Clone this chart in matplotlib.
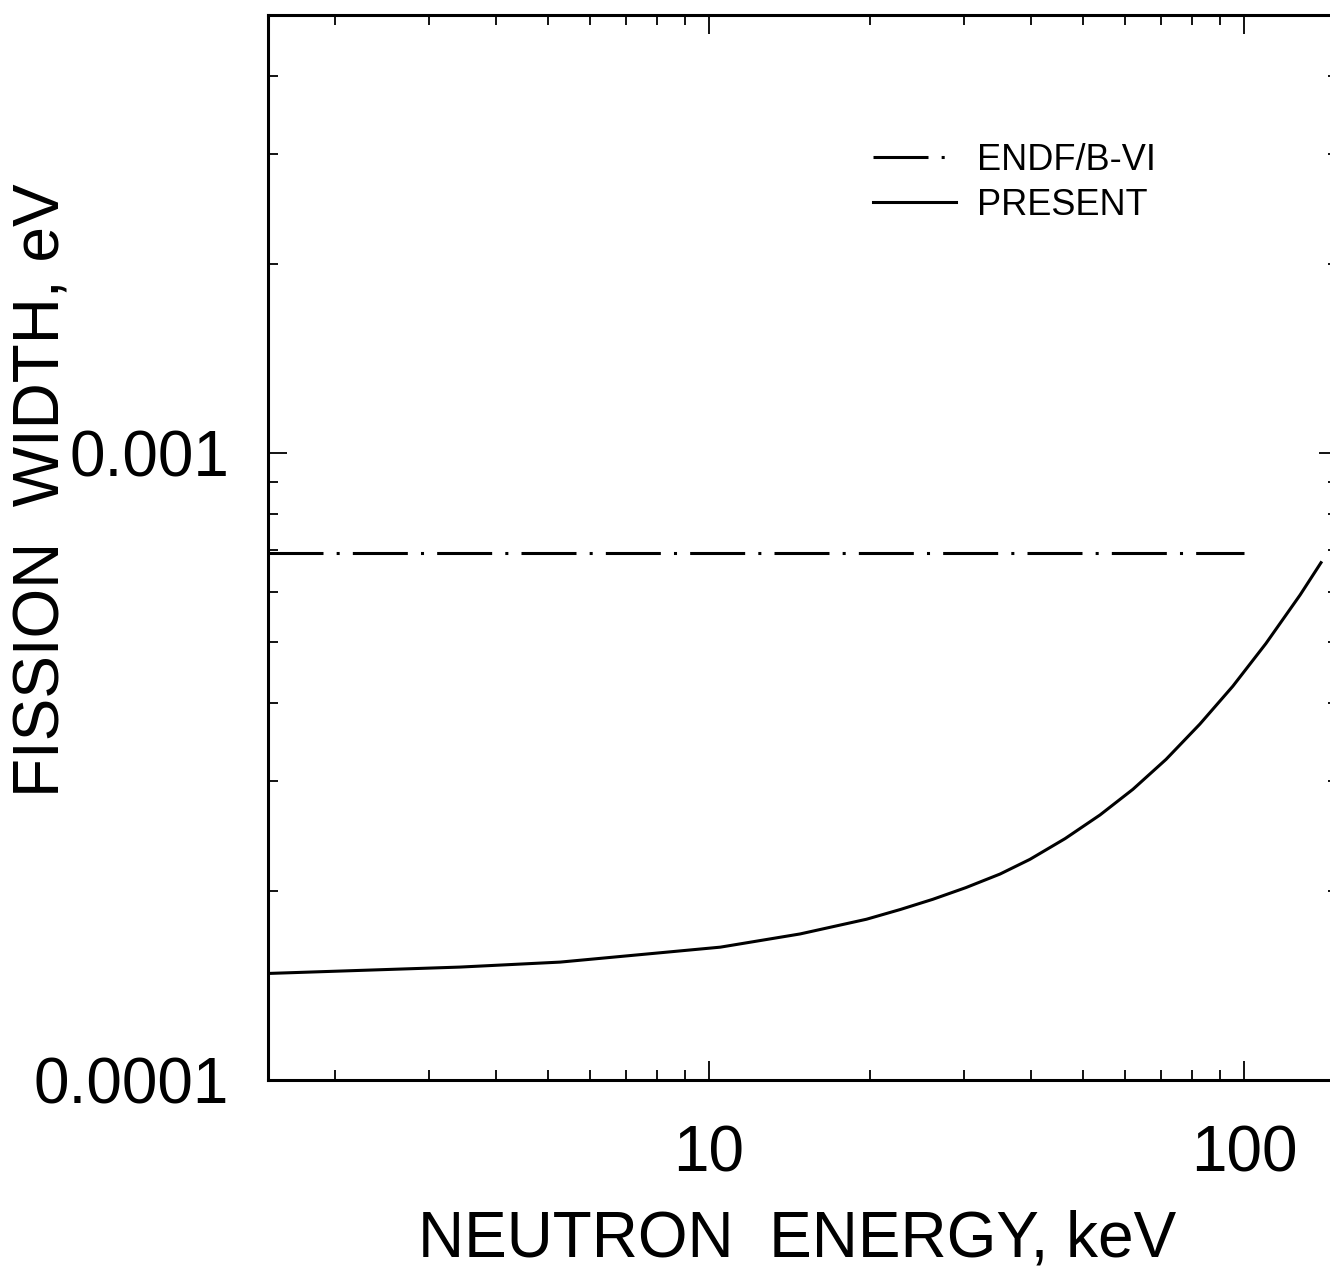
import matplotlib
matplotlib.use("Agg")
import matplotlib.pyplot as plt
from matplotlib.ticker import LogLocator, FixedLocator, NullFormatter, FixedFormatter

plt.rcParams['font.family'] = ['Liberation Sans', 'DejaVu Sans']

# ENDF/B-VI constant fission width
endf_energy = [1.5, 100.0]
endf_width = [6.93e-4, 6.93e-4]

# PRESENT curve
present_energy = [1.5, 3.42, 5.27, 10.5, 14.8, 19.7, 22.8, 26.2, 30.2, 35.0, 39.8,
                  46.3, 53.8, 62.0, 71.5, 82.7, 95.3, 109.9, 127.3, 139.3]
present_width = [1.479e-4, 1.514e-4, 1.542e-4, 1.629e-4, 1.710e-4, 1.805e-4, 1.871e-4,
                 1.942e-4, 2.027e-4, 2.131e-4, 2.249e-4, 2.427e-4, 2.647e-4, 2.909e-4,
                 3.247e-4, 3.696e-4, 4.248e-4, 4.970e-4, 5.939e-4, 6.688e-4]

x_ticks = [10, 100]
x_ticklabels = ["10", "100"]
y_ticks = [1e-4, 1e-3]
y_ticklabels = ["0.0001", "0.001"]

fig = plt.figure(figsize=(13.3, 12.75), dpi=100)
ax = fig.add_axes([268.2/1330, 195/1275, 1070/1330, 1065/1275])

ax.plot(endf_energy, endf_width, color='black', lw=2.2,
        dashes=(18, 4.3, 1, 4.3), label='ENDF/B-VI')
ax.plot(present_energy, present_width, color='black', lw=2.2, label='PRESENT',
        solid_joinstyle='round')

ax.set_xscale('log')
ax.set_yscale('log')
ax.set_xlim(1.5, 150)
ax.set_ylim(1e-4, 5e-3)

ax.xaxis.set_major_locator(FixedLocator(x_ticks))
ax.xaxis.set_major_formatter(FixedFormatter(x_ticklabels))
ax.xaxis.set_minor_locator(LogLocator(base=10, subs=range(2, 10)))
ax.xaxis.set_minor_formatter(NullFormatter())
ax.yaxis.set_major_locator(FixedLocator(y_ticks))
ax.yaxis.set_major_formatter(FixedFormatter(y_ticklabels))
ax.yaxis.set_minor_locator(LogLocator(base=10, subs=range(2, 10)))
ax.yaxis.set_minor_formatter(NullFormatter())

ax.tick_params(which='both', direction='in', top=True, right=True, width=1.3)
ax.tick_params(which='major', length=14, labelsize=46)
ax.tick_params(which='minor', length=7)
ax.tick_params(axis='x', which='major', pad=32)
ax.tick_params(axis='y', which='major', pad=28)

for s in ax.spines.values():
    s.set_linewidth(2.2)

ax.set_xlabel("NEUTRON  ENERGY, keV", fontsize=46, va='center')
ax.xaxis.set_label_coords(0.494, -0.150)
ax.set_ylabel("FISSION  WIDTH, eV", fontsize=46, va='center')
ax.yaxis.set_label_coords(-0.211, 0.554)

leg = ax.legend(loc='upper left', bbox_to_anchor=(0.565, 0.880), frameon=False,
                fontsize=26, handlelength=2.3, handletextpad=0.6,
                borderpad=0, borderaxespad=0, labelspacing=0.28)

fig.savefig("out.png", dpi=100)
